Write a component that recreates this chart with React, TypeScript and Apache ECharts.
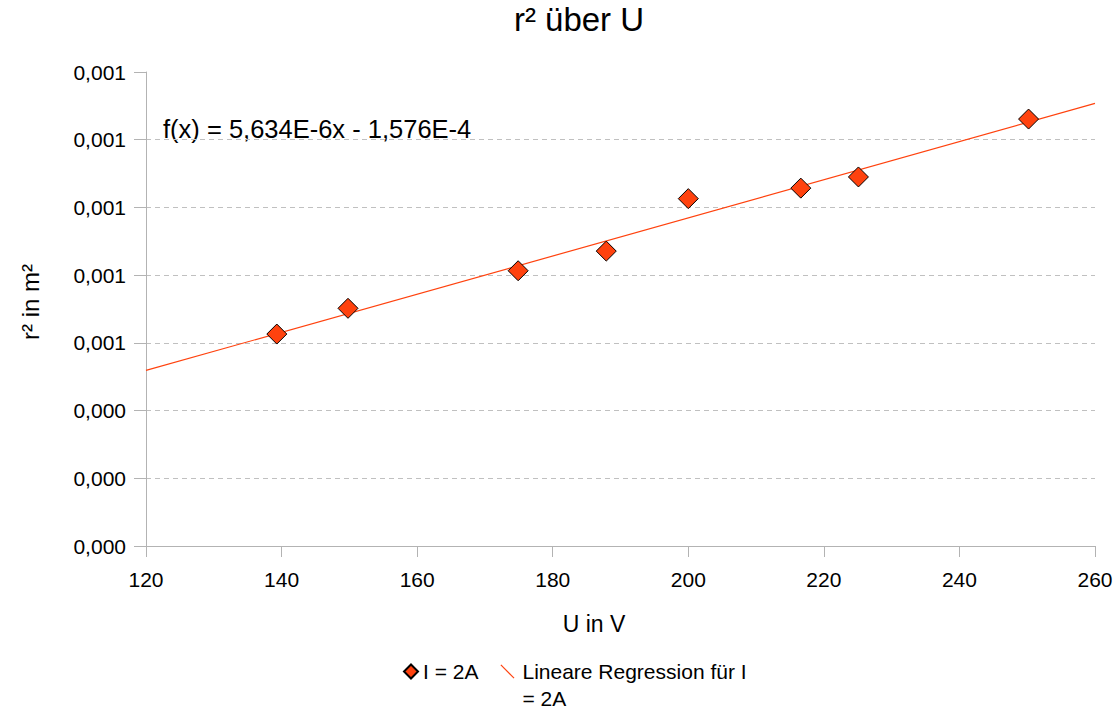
import React, { useEffect, useRef } from "react";
import * as echarts from "echarts";

const titleText = "r² über U";
const xName = "U in V";
const yName = "r² in m²";
const seriesName = "I = 2A";
const trendName = "Lineare Regression für I\n= 2A";
const equationText = "f(x) = 5,634E-6x - 1,576E-4";

const voltage = [139.3, 149.8, 174.9, 187.9, 200.0, 216.6, 225.1, 250.2];
const radiusSq = [0.000626, 0.000702, 0.000813, 0.000871, 0.001026, 0.001057, 0.00109, 0.001261];

// regression line end points (x = 120 and x = 260)
const trendX = [120, 260];
const trendY = [0.0005185, 0.0013072];

const xTicks = { min: 120, max: 260, interval: 20 };
const yTicks = { min: 0, max: 0.0014, interval: 0.0002 };

const ORANGE = "#ff420e";
const FONT = "Liberation Sans, Arial, sans-serif";

export default function App() {
  const ref = useRef<HTMLDivElement>(null);
  useEffect(() => {
    if (!ref.current) return;
    const chart = echarts.init(ref.current, null, { renderer: "svg" });
    const linePath = "path://M0,0.9 L0.9,0 L15,14.1 L14.1,15 Z";
    chart.setOption({
      animation: false,
      backgroundColor: "#ffffff",
      textStyle: { fontFamily: FONT, color: "#000" },
      title: {
        text: titleText,
        left: 579,
        top: 3,
        padding: 0,
        textAlign: "center",
        textStyle: { fontFamily: FONT, fontSize: 33, fontWeight: "normal", color: "#000" },
      },
      grid: { left: 146, right: 24, top: 72, bottom: 166, containLabel: false },
      xAxis: {
        type: "value",
        min: xTicks.min,
        max: xTicks.max,
        interval: xTicks.interval,
        name: xName,
        nameLocation: "middle",
        nameGap: 66,
        nameTextStyle: { fontFamily: FONT, fontSize: 23, color: "#000", padding: [0, 53, 0, 0] },
        axisLine: { show: true, lineStyle: { color: "#b3b3b3", width: 1 } },
        axisTick: { show: true, inside: false, length: 11, lineStyle: { color: "#b3b3b3" } },
        axisLabel: { fontFamily: FONT, fontSize: 21, color: "#000", margin: 23 },
        splitLine: { show: false },
      },
      yAxis: {
        type: "value",
        min: yTicks.min,
        max: yTicks.max,
        interval: yTicks.interval,
        name: yName,
        nameLocation: "middle",
        nameGap: 104,
        nameTextStyle: { fontFamily: FONT, fontSize: 24, color: "#000", padding: [0, 0, 0, 14] },
        axisLine: { show: true, lineStyle: { color: "#b3b3b3", width: 1 } },
        axisTick: { show: true, inside: false, length: 12, lineStyle: { color: "#b3b3b3" } },
        axisLabel: {
          fontFamily: FONT,
          fontSize: 21,
          color: "#000",
          margin: 20,
          formatter: (v: number) => v.toFixed(3).replace(".", ","),
        },
        splitLine: {
          show: true,
          showMaxLine: false,
          lineStyle: { color: "#c0c0c0", type: [5, 4], width: 1 },
        },
      },
      legend: {
        left: 398,
        top: 626,
        itemWidth: 14,
        itemHeight: 14,
        itemGap: 22,
        formatter: (name: string) => (name.indexOf("\n") >= 0 ? "\n" + name : name),
        textStyle: { fontFamily: FONT, fontSize: 21, color: "#000", lineHeight: 27 },
        data: [
          { name: seriesName, icon: "diamond" },
          {
            name: trendName,
            icon: linePath,
            itemStyle: { color: ORANGE },
            textStyle: { padding: [0, 0, 0, 3] },
          },
        ],
      },
      graphic: [
        {
          type: "text",
          x: 163,
          y: 129,
          style: {
            text: equationText,
            fontFamily: FONT,
            fontSize: 25.5,
            fill: "#000",
            verticalAlign: "middle",
          },
        },
      ],
      series: [
        {
          name: trendName,
          type: "line",
          data: trendX.map((x, i) => [x, trendY[i]]),
          showSymbol: false,
          symbol: "none",
          lineStyle: { color: ORANGE, width: 1.2 },
          itemStyle: { color: ORANGE },
          z: 2,
        },
        {
          name: seriesName,
          type: "scatter",
          data: voltage.map((x, i) => [x, radiusSq[i]]),
          symbol: "diamond",
          symbolSize: 20,
          itemStyle: { color: ORANGE, borderColor: "#000", borderWidth: 1, opacity: 1 },
          z: 3,
        },
      ],
    });
    return () => chart.dispose();
  }, []);
  return (
    <div
      ref={ref}
      style={{ position: "absolute", left: 0, top: 0, width: 1119, height: 712 }}
    />
  );
}
